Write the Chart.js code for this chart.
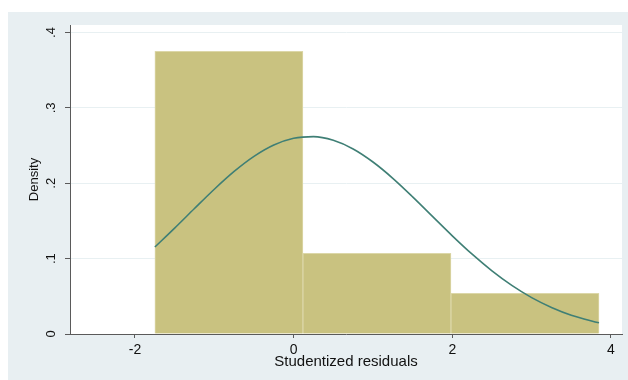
<!DOCTYPE html>
<html>
<head>
<meta charset="utf-8">
<script src="https://cdn.jsdelivr.net/npm/chart.js@4/dist/chart.umd.min.js"></script>
<style>
  html, body { margin: 0; padding: 0; background: #ffffff; }
  #wrap { width: 628px; height: 380px; }
</style>
</head>
<body>
<div id="wrap"><canvas id="c" width="628" height="380"></canvas></div>
<script>
// Histogram of studentized residuals (density scale) with a normal density overlay

// Histogram bins: left edges, common width, density heights
const binStarts = [-1.749, 0.117, 1.983];
const binWidth = 1.866;
const binDensity = [0.375, 0.107, 0.054];

// Normal density overlay, sampled along the residual range
const curveX = [-1.749, -1.5, -1.25, -1.0, -0.75, -0.5, -0.25, 0.0, 0.25, 0.5, 0.75, 1.0,
                1.25, 1.5, 1.75, 2.0, 2.25, 2.5, 2.75, 3.0, 3.25, 3.5, 3.849];
const curveY = [0.1154, 0.1405, 0.1665, 0.1921, 0.2157, 0.2357, 0.2508, 0.2597, 0.2619, 0.2570,
                0.2455, 0.2282, 0.2066, 0.1820, 0.1561, 0.1303, 0.1059, 0.0838, 0.0645, 0.0483,
                0.0353, 0.0250, 0.0148];

// Axis ticks and labels
const xTickValues = [-2, 0, 2, 4];
const xTickLabels = ['-2', '0', '2', '4'];
const yTickValues = [0, 0.1, 0.2, 0.3, 0.4];
const yTickLabels = ['0', '.1', '.2', '.3', '.4'];
const xTitle = 'Studentized residuals';
const yTitle = 'Density';

const barPoints = binStarts.map((s, i) => ({ x: s + binWidth / 2, y: binDensity[i] }));
const curvePoints = curveX.map((x, i) => ({ x: x, y: curveY[i] }));

const FONT = '"Liberation Sans", Arial, Helvetica, sans-serif';

// Graph-region and plot-region backgrounds
const backgroundPlugin = {
  id: 'regions',
  beforeDraw(chart) {
    const ctx = chart.ctx;
    const a = chart.chartArea;
    ctx.save();
    ctx.fillStyle = '#ffffff';
    ctx.fillRect(0, 0, chart.width, chart.height);
    ctx.fillStyle = '#e8eff2';
    ctx.fillRect(8, 12, chart.width - 8, chart.height - 12);
    ctx.fillStyle = '#ffffff';
    ctx.fillRect(a.left, a.top, a.right - a.left, a.bottom - a.top);
    ctx.restore();
  }
};

new Chart(document.getElementById('c'), {
  type: 'bar',
  data: {
    datasets: [
      {
        type: 'line',
        data: curvePoints,
        borderColor: '#3f7f75',
        borderWidth: 1.6,
        pointRadius: 0,
        fill: false,
        cubicInterpolationMode: 'monotone',
        order: 0
      },
      {
        type: 'bar',
        data: barPoints,
        backgroundColor: '#c9c280',
        borderColor: '#dcd7a8',
        borderWidth: 1,
        borderSkipped: 'bottom',
        barPercentage: 1,
        categoryPercentage: 1,
        order: 1
      }
    ]
  },
  options: {
    responsive: false,
    animation: false,
    events: [],
    layout: { padding: { left: 0, top: 25, right: 6, bottom: 0 } },
    plugins: {
      legend: { display: false },
      tooltip: { enabled: false }
    },
    scales: {
      x: {
        type: 'linear',
        offset: false,
        min: -2.819,
        max: 4.139,
        afterFit(scale) { scale.height = 46; },
        afterBuildTicks(scale) { scale.ticks = xTickValues.map(v => ({ value: v })); },
        grid: {
          offset: false,
          drawOnChartArea: false,
          drawTicks: true,
          tickLength: 4,
          tickColor: '#5a5a5a'
        },
        border: { display: true, color: '#5a5a5a', width: 1 },
        ticks: {
          autoSkip: false,
          maxRotation: 0,
          padding: 4,
          color: '#111111',
          font: { family: FONT, size: 14 },
          callback(value) {
            const i = xTickValues.indexOf(value);
            return i >= 0 ? xTickLabels[i] : '';
          }
        },
        title: {
          display: true,
          text: xTitle,
          color: '#111111',
          font: { family: FONT, size: 15 },
          padding: { top: 0, bottom: 9 }
        }
      },
      y: {
        type: 'linear',
        min: 0,
        max: 0.41,
        afterFit(scale) { scale.width = 70; },
        afterBuildTicks(scale) { scale.ticks = yTickValues.map(v => ({ value: v })); },
        grid: {
          color: '#e8f0f2',
          lineWidth: 1,
          drawTicks: true,
          tickLength: 5,
          tickColor: '#5a5a5a'
        },
        border: { display: true, color: '#5a5a5a', width: 1 },
        ticks: {
          autoSkip: false,
          minRotation: 90,
          maxRotation: 90,
          crossAlign: 'center',
          padding: 8,
          color: '#111111',
          font: { family: FONT, size: 13 },
          callback(value) {
            const i = yTickValues.findIndex(v => Math.abs(v - value) < 1e-9);
            return i >= 0 ? yTickLabels[i] : '';
          }
        },
        title: {
          display: true,
          text: yTitle,
          color: '#111111',
          font: { family: FONT, size: 13 },
          padding: { top: 27, bottom: 0 }
        }
      }
    }
  },
  plugins: [backgroundPlugin]
});
</script>
</body>
</html>
